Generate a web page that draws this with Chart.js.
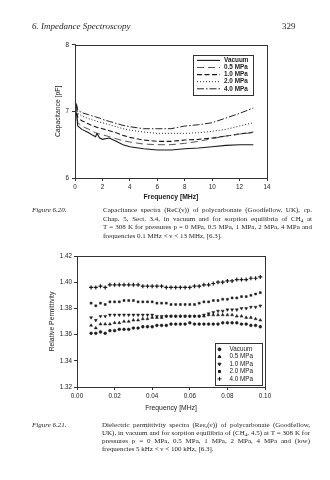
<!DOCTYPE html>
<html>
<head>
<meta charset="utf-8">
<script src="https://cdn.jsdelivr.net/npm/chart.js@4.4.0/dist/chart.umd.min.js"></script>
<style>
body{margin:0;width:330px;height:480px;position:relative;overflow:hidden;background:#fff;color:#1e1e1e;font-family:"Liberation Serif","Times New Roman",serif;-webkit-font-smoothing:antialiased}
.abs{position:absolute;will-change:transform}
.hdr{top:21px;font-size:9px;line-height:10px}
.cap{font-size:7px;white-space:nowrap}
.cap div{text-align:justify;text-align-last:justify}
.cap div.last{text-align-last:left}
.cap sub{font-size:5px;vertical-align:-1px;line-height:0}
.fig{font-style:italic;font-size:7px}
canvas{position:absolute}
</style>
</head>
<body>
<div class="abs hdr" style="left:32px;font-style:italic">6. Impedance Spectroscopy</div>
<div class="abs hdr" style="left:282px">329</div>

<canvas id="capChart" width="245" height="165" style="left:30px;top:38px"></canvas>

<div class="abs fig" style="left:32px;top:205.7px;line-height:8.6px">Figure 6.20.</div>
<div class="abs cap" style="left:103px;top:205.7px;width:209px;line-height:8.6px">
  <div>Capacitance spectra (ReC(ν)) of polycarbonate (Goodfellow, UK), cp.</div>
  <div>Chap. 5, Sect. 3.4, in vacuum and for sorption equilibria of CH<sub>4</sub> at</div>
  <div>T = 308 K for pressures p = 0 MPa, 0.5 MPa, 1 MPa, 2 MPa, 4 MPa and</div>
  <div class="last">frequencies 0.1 MHz &lt; ν &lt; 13 MHz, [6.3].</div>
</div>

<canvas id="permChart" width="245" height="168" style="left:30px;top:250px"></canvas>

<div class="abs fig" style="left:32px;top:421px;line-height:8px">Figure 6.21.</div>
<div class="abs cap" style="left:102px;top:421px;width:208px;line-height:8px">
  <div>Dielectric permittivity spectra (Reε<sub>r</sub>(ν)) of polycarbonate (Goodfellow,</div>
  <div>UK), in vacuum and for sorption equilibria of (CH<sub>4</sub>, 4.5) at T = 308 K for</div>
  <div>pressures p = 0 MPa, 0.5 MPa, 1 MPa, 2 MPa, 4 MPa and (low)</div>
  <div class="last">frequencies 5 kHz &lt; ν &lt; 100 kHz, [6.3].</div>
</div>

<script>
// ---- Figure 6.20: capacitance vs frequency (MHz) ----
const capFreq   = [0.1, 0.2, 0.5, 1, 1.3, 1.5, 1.6, 1.8, 2, 2.5, 3, 3.5, 4, 5, 6, 7, 8, 9, 10, 11, 12, 13];
const capVacuum = [6.98, 6.78, 6.73, 6.68, 6.64, 6.62, 6.67, 6.60, 6.58, 6.60, 6.55, 6.50, 6.47, 6.44, 6.42, 6.42, 6.44, 6.45, 6.47, 6.49, 6.50, 6.50];
const cap05     = [7.05, 6.83, 6.78, 6.73, 6.70, 6.68, 6.67, 6.66, 6.65, 6.62, 6.59, 6.56, 6.54, 6.51, 6.50, 6.50, 6.52, 6.55, 6.59, 6.63, 6.66, 6.68];
const cap10     = [7.08, 6.90, 6.86, 6.81, 6.78, 6.77, 6.76, 6.75, 6.74, 6.71, 6.68, 6.64, 6.61, 6.57, 6.55, 6.55, 6.57, 6.58, 6.60, 6.63, 6.66, 6.69];
const cap20     = [7.10, 6.97, 6.93, 6.89, 6.87, 6.86, 6.85, 6.84, 6.83, 6.80, 6.77, 6.74, 6.72, 6.69, 6.67, 6.67, 6.67, 6.68, 6.70, 6.73, 6.78, 6.83];
const cap40     = [7.12, 7.02, 6.98, 6.95, 6.93, 6.92, 6.91, 6.90, 6.88, 6.85, 6.82, 6.79, 6.77, 6.74, 6.74, 6.74, 6.78, 6.80, 6.83, 6.90, 6.97, 7.05];
const capXTicks = [0, 14];
const capYTicks = [6, 8];

// ---- Figure 6.21: relative permittivity vs frequency (MHz) ----
const permFreq = [0.0075, 0.0100, 0.0125, 0.0150, 0.0175, 0.0200, 0.0225, 0.0250, 0.0275, 0.0300,
                  0.0325, 0.0350, 0.0375, 0.0400, 0.0425, 0.0450, 0.0475, 0.0500, 0.0525, 0.0550,
                  0.0575, 0.0600, 0.0625, 0.0650, 0.0675, 0.0700, 0.0725, 0.0750, 0.0775, 0.0800,
                  0.0825, 0.0850, 0.0875, 0.0900, 0.0925, 0.0950, 0.0975];
const permVacuum = [1.361, 1.361, 1.362, 1.361, 1.363, 1.363, 1.364, 1.364, 1.364, 1.365,
                    1.365, 1.366, 1.366, 1.366, 1.367, 1.367, 1.367, 1.368, 1.368, 1.368,
                    1.368, 1.369, 1.368, 1.368, 1.368, 1.368, 1.368, 1.368, 1.369, 1.369,
                    1.369, 1.369, 1.368, 1.368, 1.367, 1.367, 1.366];
const perm05 = [1.367, 1.365, 1.368, 1.368, 1.368, 1.369, 1.369, 1.370, 1.370, 1.371,
                1.371, 1.372, 1.372, 1.373, 1.373, 1.373, 1.374, 1.374, 1.374, 1.374,
                1.374, 1.374, 1.374, 1.374, 1.374, 1.375, 1.375, 1.375, 1.375, 1.375,
                1.375, 1.374, 1.374, 1.373, 1.373, 1.372, 1.371];
const perm10 = [1.373, 1.371, 1.374, 1.374, 1.375, 1.375, 1.375, 1.375, 1.375, 1.375,
                1.375, 1.375, 1.375, 1.375, 1.374, 1.374, 1.374, 1.374, 1.374, 1.374,
                1.374, 1.374, 1.374, 1.374, 1.375, 1.376, 1.377, 1.378, 1.378, 1.379,
                1.379, 1.379, 1.380, 1.380, 1.381, 1.381, 1.382];
const perm20 = [1.384, 1.382, 1.384, 1.383, 1.385, 1.385, 1.385, 1.386, 1.386, 1.386,
                1.385, 1.385, 1.385, 1.385, 1.384, 1.384, 1.384, 1.383, 1.383, 1.383,
                1.383, 1.383, 1.383, 1.384, 1.385, 1.385, 1.386, 1.386, 1.387, 1.387,
                1.388, 1.388, 1.389, 1.389, 1.390, 1.391, 1.392];
const perm40 = [1.396, 1.396, 1.397, 1.396, 1.398, 1.398, 1.398, 1.398, 1.398, 1.398,
                1.398, 1.397, 1.397, 1.397, 1.397, 1.397, 1.396, 1.396, 1.396, 1.396,
                1.396, 1.396, 1.397, 1.397, 1.398, 1.398, 1.399, 1.400, 1.400, 1.401,
                1.401, 1.402, 1.402, 1.402, 1.403, 1.403, 1.404];
const permXTicks = [0, 0.10];
const permYTicks = [1.32, 1.42];

const seriesLabels = ["Vacuum", "0.5 MPa", "1.0 MPa", "2.0 MPa", "4.0 MPa"];

Chart.defaults.font.family = '"Liberation Sans", Arial, sans-serif';
Chart.defaults.color = "#222";

const pairs = (xs, ys) => xs.map((x, i) => ({x, y: ys[i]}));

// box around the plot area
const frame = {
    id: "frame",
    beforeDatasetsDraw(chart) {
        const {ctx, chartArea: a} = chart;
        ctx.save();
        ctx.strokeStyle = "#333";
        ctx.lineWidth = 1;
        ctx.strokeRect(Math.round(a.left) + 0.5, Math.round(a.top) + 0.5,
                       Math.round(a.right - a.left), Math.round(a.bottom - a.top));
        ctx.restore();
    }
};

// boxed legend inside the plot, like the printed figures
const boxLegend = {
    id: "boxLegend",
    afterDraw(chart, args, o) {
        const {ctx, chartArea: a} = chart;
        const x = Math.round(a.right - o.right - o.width);
        const y = Math.round(o.top != null ? a.top + o.top : a.bottom - o.bottom - o.height);
        ctx.save();
        ctx.fillStyle = "#fff";
        ctx.fillRect(x, y, o.width, o.height);
        ctx.strokeStyle = "#333";
        ctx.lineWidth = 1;
        ctx.strokeRect(x + 0.5, y + 0.5, o.width, o.height);
        ctx.font = o.font;
        ctx.textBaseline = "middle";
        chart.data.datasets.forEach((ds, i) => {
            const ry = y + o.rowStart + i * o.rowGap;
            if (o.kind === "line") {
                ctx.strokeStyle = ds.borderColor;
                ctx.lineWidth = ds.borderWidth;
                ctx.setLineDash(ds.borderDash || []);
                ctx.beginPath();
                ctx.moveTo(x + o.sampleX, ry);
                ctx.lineTo(x + o.sampleX + o.sampleW, ry);
                ctx.stroke();
                ctx.setLineDash([]);
            } else {
                ctx.fillStyle = ds.pointBackgroundColor;
                ctx.strokeStyle = ds.pointBorderColor;
                Chart.helpers.drawPoint(ctx, {
                    pointStyle: ds.pointStyle,
                    rotation: ds.pointRotation || 0,
                    radius: ds.pointRadius,
                    borderWidth: ds.pointBorderWidth
                }, x + o.sampleX, ry);
            }
            ctx.fillStyle = "#222";
            ctx.fillText(ds.label, x + o.textX, ry);
        });
        ctx.restore();
    }
};

const tickFont = {size: 6.3};
const axisLine = {color: "#333", width: 1};

// ---------- chart 1 ----------
const capStyles = [
    {borderColor: "#1a1a1a", borderDash: [], borderWidth: 1.1},
    {borderColor: "#555", borderDash: [7, 4], borderWidth: 1.0},
    {borderColor: "#1a1a1a", borderDash: [5, 2.5], borderWidth: 1.1},
    {borderColor: "#222", borderDash: [1, 2], borderWidth: 1.0},
    {borderColor: "#222", borderDash: [7, 2, 1.5, 2], borderWidth: 1.0}
];
const capValues = [capVacuum, cap05, cap10, cap20, cap40];

new Chart(document.getElementById("capChart"), {
    type: "line",
    data: {
        datasets: capValues.map((vals, i) => ({
            label: seriesLabels[i],
            data: pairs(capFreq, vals),
            ...capStyles[i],
            pointRadius: 0,
            tension: 0
        }))
    },
    options: {
        responsive: false,
        animation: false,
        layout: {padding: {top: 6, right: 8, left: 0, bottom: 0}},
        plugins: {
            legend: {display: false},
            tooltip: {enabled: false},
            boxLegend: {kind: "line", right: 14, top: 10, width: 60, height: 40,
                        rowStart: 5.4, rowGap: 7.1, sampleX: 4, sampleW: 23, textX: 31,
                        font: 'bold 6.4px "Liberation Sans", Arial, sans-serif'}
        },
        scales: {
            x: {
                type: "linear", min: capXTicks[0], max: capXTicks[1],
                ticks: {stepSize: 2, font: tickFont, padding: 2, maxRotation: 0},
                grid: {drawOnChartArea: false, tickLength: 3, color: "#333"},
                border: axisLine,
                title: {display: true, text: "Frequency [MHz]", font: {size: 6.8, weight: "bold"}, padding: {top: 0, bottom: 2}},
                afterFit: s => { s.height = 25; }
            },
            y: {
                min: capYTicks[0], max: capYTicks[1],
                ticks: {stepSize: 1, font: tickFont, padding: 3},
                grid: {drawOnChartArea: false, tickLength: 3, color: "#333"},
                border: axisLine,
                title: {display: true, text: "Capacitance [pF]", font: {size: 6.8}, padding: {top: 24.5, bottom: 0}},
                afterFit: s => { s.width = 45; }
            }
        }
    },
    plugins: [frame, boxLegend]
});

// ---------- chart 2 ----------
const permStyles = [
    {pointStyle: "circle", pointRadius: 1.4, pointRotation: 0, pointBorderWidth: 0.5},
    {pointStyle: "triangle", pointRadius: 1.7, pointRotation: 0, pointBorderWidth: 0.5},
    {pointStyle: "triangle", pointRadius: 1.7, pointRotation: 180, pointBorderWidth: 0.5},
    {pointStyle: "rect", pointRadius: 1.4, pointRotation: 0, pointBorderWidth: 0.5},
    {pointStyle: "cross", pointRadius: 2.0, pointRotation: 0, pointBorderWidth: 1.2}
];
const permValues = [permVacuum, perm05, perm10, perm20, perm40];

new Chart(document.getElementById("permChart"), {
    type: "scatter",
    data: {
        datasets: permValues.map((vals, i) => ({
            label: seriesLabels[i],
            data: pairs(permFreq, vals),
            ...permStyles[i],
            pointBackgroundColor: "#1a1a1a",
            pointBorderColor: "#1a1a1a",
            showLine: false
        }))
    },
    options: {
        responsive: false,
        animation: false,
        layout: {padding: {top: 6, right: 10, left: 0, bottom: 0}},
        plugins: {
            legend: {display: false},
            tooltip: {enabled: false},
            boxLegend: {kind: "point", right: 3, bottom: 2, width: 47, height: 42,
                        rowStart: 6.3, rowGap: 7.4, sampleX: 4.5, textX: 14.5,
                        font: '6.3px "Liberation Sans", Arial, sans-serif'}
        },
        scales: {
            x: {
                type: "linear", min: permXTicks[0], max: permXTicks[1],
                ticks: {stepSize: 0.02, font: tickFont, padding: 2, maxRotation: 0, callback: v => v.toFixed(2)},
                grid: {drawOnChartArea: false, tickLength: 3, color: "#333"},
                border: axisLine,
                title: {display: true, text: "Frequency [MHz]", font: {size: 6.8}, padding: {top: 0, bottom: 5.5}},
                afterFit: s => { s.height = 31; }
            },
            y: {
                min: permYTicks[0], max: permYTicks[1],
                ticks: {stepSize: 0.02, font: tickFont, padding: 2, callback: v => v.toFixed(2)},
                grid: {drawOnChartArea: false, tickLength: 3, color: "#333"},
                border: axisLine,
                title: {display: true, text: "Relative Permittivity", font: {size: 6.8}, padding: {top: 18.5, bottom: 0}},
                afterFit: s => { s.width = 47; }
            }
        }
    },
    plugins: [frame, boxLegend]
});
</script>
</body>
</html>
